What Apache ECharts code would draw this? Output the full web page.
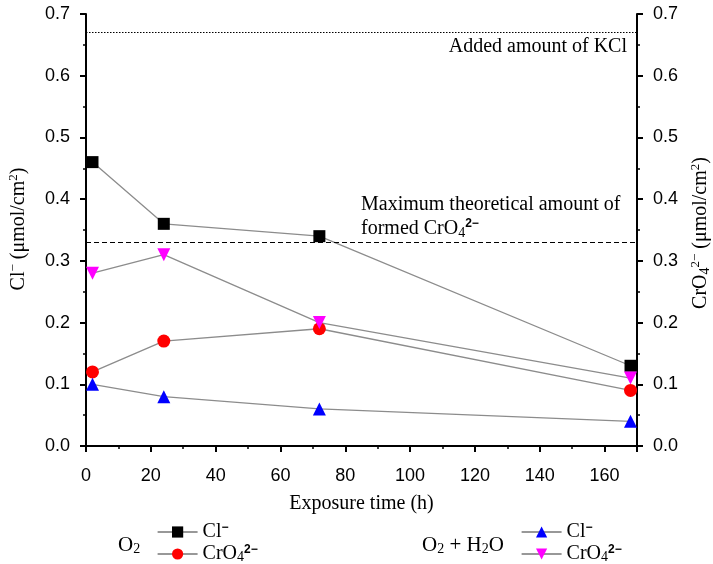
<!DOCTYPE html>
<html><head><meta charset="utf-8">
<script src="https://cdn.jsdelivr.net/npm/echarts@6/dist/echarts.min.js"></script>
<style>html,body{margin:0;padding:0;background:#fff}#c{width:713px;height:564px}</style>
</head><body><div id="c"></div>
<script>
// ---- data ----
const times = [2, 24, 72, 168];
const clO2 = [0.46, 0.36, 0.34, 0.13];
const cro4O2 = [0.12, 0.17, 0.19, 0.09];
const clH2O = [0.10, 0.08, 0.06, 0.04];
const cro4H2O = [0.28, 0.31, 0.20, 0.11];
const kclAdded = 0.67;
const maxCrO4 = 0.33;
const yTicks = [0, 0.1, 0.2, 0.3, 0.4, 0.5, 0.6, 0.7];
const xTicks = [0, 20, 40, 60, 80, 100, 120, 140, 160];

const seriesNames = {
  O2_Cl: 'Cl{p|\u2212}',
  O2_CrO4: 'CrO{s|4}{p|2\u2212}',
  H2O_Cl: 'Cl{p|\u2212}',
  H2O_CrO4: 'CrO{s|4}{p|2\u2212}'
};

const serif = '"Liberation Serif","Times New Roman",serif';
const sans = '"Liberation Sans",Arial,sans-serif';
const pair = (ys) => times.map((t, i) => [t, ys[i]]);

const rich = {
  s: {fontFamily: serif, fontSize: 14, lineHeight: 14, verticalAlign: 'bottom', fill: '#000', color: '#000'},
  p: {fontFamily: sans, fontSize: 12, fontWeight: 'bold', lineHeight: 12, verticalAlign: 'top', fill: '#000', color: '#000'},
  ps: {fontFamily: serif, fontSize: 13, lineHeight: 13, verticalAlign: 'top', fill: '#000', color: '#000'}
};

const axisY = (pos) => ({
  type: 'value', position: pos, min: 0, max: 0.7, interval: 0.1,
  axisLine: {show: true, lineStyle: {color: '#000', width: 2}},
  axisTick: {show: true, inside: false, length: 6, lineStyle: {color: '#000', width: 2}},
  minorTick: {show: true, splitNumber: 2, length: 3, lineStyle: {color: '#000', width: 1.5}},
  splitLine: {show: false},
  axisLabel: {color: '#000', fontFamily: sans, fontSize: 18, margin: 16,
    formatter: v => v.toFixed(1)}
});

const lineStyle = {color: '#8c8c8c', width: 1.3};

const legendBase = {
  orient: 'vertical', top: 522, height: 100, width: 200, padding: 0,
  itemWidth: 40, itemHeight: 14, itemGap: 2,
  lineStyle: {color: '#333', width: 1.2},
  textStyle: {fontFamily: serif, fontSize: 20, color: '#000', lineHeight: 20, rich: rich},
  formatter: n => seriesNames[n], selectedMode: false
};

const txt = (x, y, text, align, size, rotation) => ({
  type: 'text', x: x, y: y, rotation: rotation || 0,
  style: {text: text, font: (size || 20) + 'px ' + serif, fill: '#000', align: align || 'left',
    verticalAlign: 'middle', lineHeight: 23, rich: rich}
});

const chart = echarts.init(document.getElementById('c'));
chart.setOption({
  animation: false,
  grid: {left: 86, right: 76, top: 14, bottom: 118, containLabel: false},
  xAxis: {
    type: 'value', min: 0, max: 170, interval: 20,
    name: 'Exposure time (h)', nameLocation: 'middle', nameGap: 48,
    nameTextStyle: {color: '#000', fontFamily: serif, fontSize: 20},
    axisLine: {lineStyle: {color: '#000', width: 2}},
    axisTick: {inside: false, length: 6, lineStyle: {color: '#000', width: 2}},
    minorTick: {show: true, splitNumber: 2, length: 3, lineStyle: {color: '#000', width: 1.5}},
    splitLine: {show: false},
    axisLabel: {color: '#000', fontFamily: sans, fontSize: 18, margin: 21, showMaxLabel: false,
      formatter: v => (xTicks.indexOf(v) >= 0 ? String(v) : '')}
  },
  yAxis: [axisY('left'), axisY('right')],
  legend: [
    Object.assign({}, legendBase, {left: 157, data: ['O2_Cl', 'O2_CrO4']}),
    Object.assign({}, legendBase, {left: 521, data: ['H2O_Cl', 'H2O_CrO4']})
  ],
  series: [
    {name: 'O2_Cl', type: 'line', data: pair(clO2), symbol: 'rect', symbolSize: 12,
     itemStyle: {color: '#000'}, lineStyle,
     markLine: {silent: true, symbol: 'none', label: {show: false},
       data: [
         {yAxis: kclAdded, lineStyle: {type: [1.5, 1.5], color: '#000', width: 1}},
         {yAxis: maxCrO4, lineStyle: {type: [5, 3], color: '#000', width: 1.2}}
       ]}},
    {name: 'O2_CrO4', type: 'line', data: pair(cro4O2), symbol: 'circle', symbolSize: 13,
     itemStyle: {color: '#ff0000'}, lineStyle},
    {name: 'H2O_Cl', type: 'line', data: pair(clH2O), symbol: 'triangle', symbolSize: 13,
     itemStyle: {color: '#0000ff'}, lineStyle},
    {name: 'H2O_CrO4', type: 'line', data: pair(cro4H2O), symbol: 'triangle', symbolRotate: 180, symbolSize: 13,
     itemStyle: {color: '#ff00ff'}, lineStyle}
  ],
  graphic: [
    txt(627, 47, 'Added amount of KCl', 'right'),
    txt(361, 205, 'Maximum theoretical amount of'),
    txt(361, 229, 'formed CrO{s|4}{p|2\u2212}'),
    txt(19, 229, 'Cl{ps|\u2212} (\u03BCmol/cm{ps|2})', 'center', 20, Math.PI / 2),
    txt(701, 233, 'CrO{s|4}{ps|2\u2212} (\u03BCmol/cm{ps|2})', 'center', 20, Math.PI / 2),
    txt(118, 545, 'O{s|2}', 'left', 21),
    txt(422, 545, 'O{s|2} + H{s|2}O', 'left', 21)
  ]
});
</script></body></html>
